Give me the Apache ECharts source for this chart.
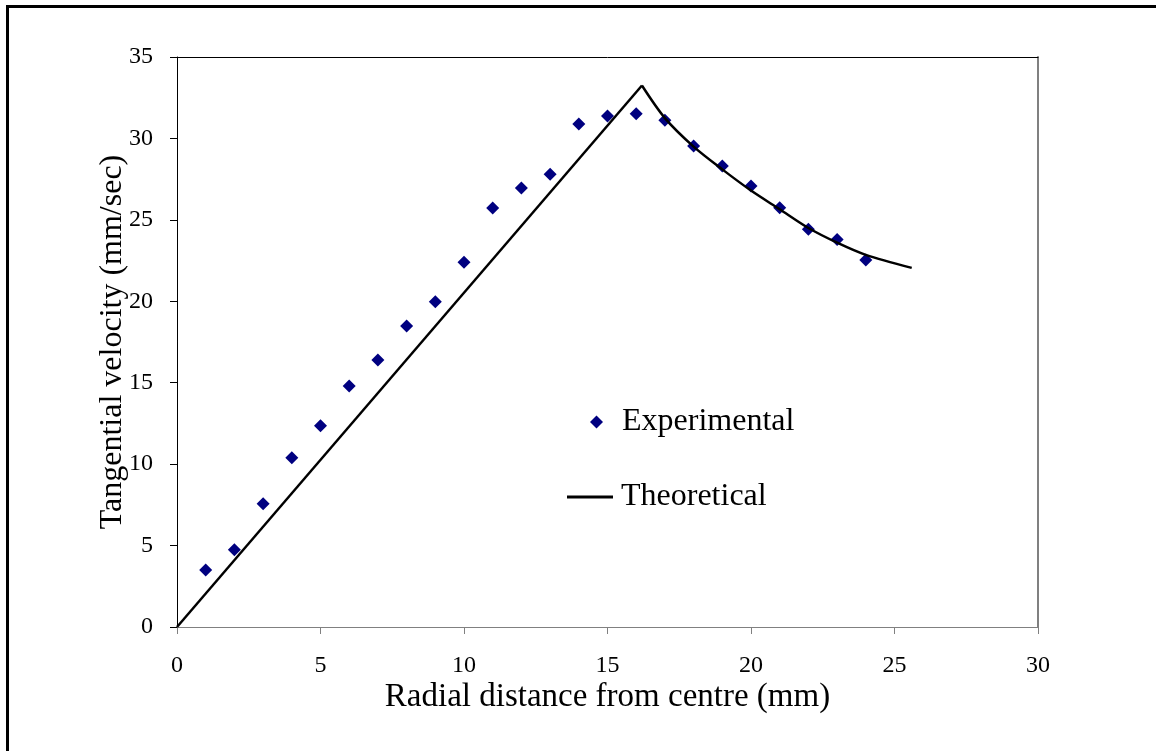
<!DOCTYPE html>
<html>
<head>
<meta charset="utf-8">
<script src="https://cdn.jsdelivr.net/npm/echarts@6/dist/echarts.min.js"></script>
<style>
html,body{margin:0;padding:0;background:#fff;}
#chart{width:1156px;height:751px;}
</style>
</head>
<body>
<div id="chart"></div>
<script>
// Experimental data
const expX = [1,2,3,4,5,6,7,8,9,10,11,12,13,14,15,16,17,18,19,20,21,22,23,24];
const expY = [3.5,4.75,7.57,10.4,12.35,14.8,16.4,18.48,19.97,22.4,25.73,26.96,27.8,30.88,31.37,31.52,31.12,29.53,28.3,27.08,25.75,24.42,23.8,22.53];
// Theoretical: forced-vortex (linear) part
const theoLinX = [0, 16.2];
const theoLinY = [0, 33.25];
// Theoretical: free-vortex (decay) part
const theoCurveX = [16.2,17,18,19,20,21,22,23,24,25.6];
const theoCurveY = [33.25,31.25,29.5,28.1,26.8,25.65,24.5,23.6,22.85,22.05];
// Axis ticks
const xTicks = {min:0, max:30, interval:5};
const yTicks = {min:0, max:35, interval:5};

const zip = (xs, ys) => xs.map((x,i)=>[x, ys[i]]);
const FONT = '"Liberation Serif","Times New Roman",serif';

const chart = echarts.init(document.getElementById('chart'), null, {renderer:'canvas'});
chart.setOption({
  backgroundColor:'#fff',
  animation:false,
  textStyle:{fontFamily:FONT},
  graphic:[{
    type:'rect', silent:true,
    shape:{x:7.5, y:6.5, width:1400, height:1000},
    style:{fill:'none', stroke:'#000', lineWidth:3}
  }],
  grid:{left:177, top:57, right:118, bottom:124, containLabel:false},
  legend:[{
    data:[{name:'Experimental', icon:'diamond'}], orient:'vertical', left:590, top:406, padding:0,
    itemWidth:13, itemHeight:13,
    itemStyle:{color:'#000080', opacity:1},
    textStyle:{fontFamily:FONT, fontSize:32, color:'#000', lineHeight:32, padding:[0,0,0,14]}
  },{
    data:[{name:'Theoretical', icon:'rect'}], orient:'vertical', left:567, top:481, padding:0,
    itemWidth:46, itemHeight:3,
    itemStyle:{color:'#000'},
    textStyle:{fontFamily:FONT, fontSize:32, color:'#000', lineHeight:32, padding:[0,0,0,3]}
  }],
  xAxis:[{
    type:'value', position:'bottom', min:xTicks.min, max:xTicks.max, interval:xTicks.interval,
    name:'Radial distance from centre (mm)', nameLocation:'middle', nameGap:54, nameMoveOverlap:false,
    nameTextStyle:{fontFamily:FONT, fontSize:33, color:'#000'},
    axisLine:{show:true, onZero:false, lineStyle:{color:'#808080', width:1}},
    axisTick:{show:true, inside:false, length:7, lineStyle:{color:'#808080'}},
    axisLabel:{margin:27, fontFamily:FONT, fontSize:24, color:'#000'},
    splitLine:{show:false}
  },{
    type:'value', position:'top', min:xTicks.min, max:xTicks.max,
    axisLine:{show:true, onZero:false, lineStyle:{color:'#000', width:1}},
    axisTick:{show:false}, axisLabel:{show:false}, splitLine:{show:false}
  }],
  yAxis:[{
    type:'value', position:'left', min:yTicks.min, max:yTicks.max, interval:yTicks.interval,
    name:'Tangential velocity (mm/sec)', nameLocation:'middle', nameGap:48, nameMoveOverlap:false,
    nameTextStyle:{fontFamily:FONT, fontSize:32, color:'#000'},
    axisLine:{show:true, onZero:false, lineStyle:{color:'#000', width:1}},
    axisTick:{show:true, inside:false, length:7, lineStyle:{color:'#000'}},
    axisLabel:{margin:24, fontFamily:FONT, fontSize:24, color:'#000'},
    splitLine:{show:false}
  },{
    type:'value', position:'right', min:yTicks.min, max:yTicks.max,
    axisLine:{show:true, onZero:false, lineStyle:{color:'#808080', width:2}},
    axisTick:{show:false}, axisLabel:{show:false}, splitLine:{show:false}
  }],
  series:[{
    name:'Experimental', type:'scatter', symbol:'diamond', symbolSize:13,
    itemStyle:{color:'#000080', opacity:1}, data:zip(expX, expY), z:2
  },{
    name:'Theoretical', type:'line', showSymbol:false, symbol:'none',
    lineStyle:{color:'#000', width:2.5}, itemStyle:{color:'#000'},
    data:zip(theoLinX, theoLinY), z:3
  },{
    name:'Theoretical', type:'line', showSymbol:false, symbol:'none', smooth:0.3,
    lineStyle:{color:'#000', width:2.5}, itemStyle:{color:'#000'},
    data:zip(theoCurveX, theoCurveY), z:3
  }]
});
</script>
</body>
</html>
